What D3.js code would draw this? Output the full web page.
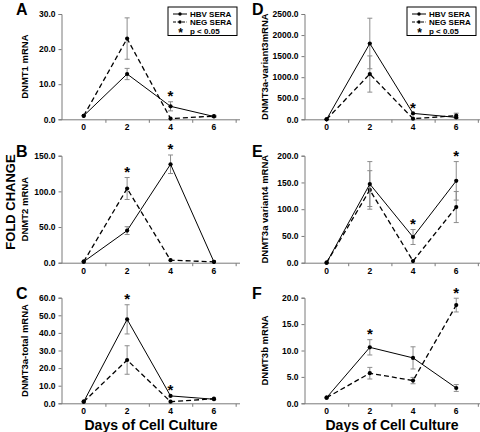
<!DOCTYPE html>
<html><head><meta charset="utf-8">
<script src="https://cdn.jsdelivr.net/npm/d3@7"></script>
<style>body{margin:0;background:#fff}svg{display:block;font-family:"Liberation Sans",Arial,sans-serif}</style>
</head><body><svg id="c" width="480" height="432"></svg>
<script>
const days = [0, 2, 4, 6];
const xTickLabels = [0, 2, 4, 6];
const xMinorTicks = [1, 3, 5, 7];
const seriesNames = ["HBV SERA", "NEG SERA"];
const starLabel = "p < 0.05";

// Panel A: DNMT1
const aHbv = [1.0, 12.9, 3.7, 0.8], aHbvErr = [0, 1.6, 1.3, 0.2];
const aNeg = [1.0, 23.0, 0.2, 0.9], aNegErr = [0, 5.9, 0, 0.2];
const aStars = [4];
const aTicks = [0, 10, 20, 30];
// Panel B: DNMT2
const bHbv = [1.4, 45.0, 138.0, 1.2], bHbvErr = [0, 5.5, 13.0, 0];
const bNeg = [1.4, 104.0, 3.5, 1.2], bNegErr = [0, 15.4, 0, 0];
const bStars = [2, 4];
const bTicks = [0, 50, 100, 150];
// Panel C: DNMT3a-total
const cHbv = [0.9, 47.7, 4.2, 2.3], cHbvErr = [0, 8.3, 0, 0];
const cNeg = [0.9, 24.6, 0.9, 2.6], cNegErr = [0, 8.1, 0, 0];
const cStars = [2, 4];
const cTicks = [0, 10, 20, 30, 40, 50, 60];
// Panel D: DNMT3a-variant3
const dHbv = [0, 1800, 140, 45], dHbvErr = [0, 600, 0, 0];
const dNeg = [0, 1075, 15, 85], dNegErr = [0, 430, 0, 60];
const dStars = [4];
const dTicks = [0, 500, 1000, 1500, 2000, 2500];
// Panel E: DNMT3a variant4
const eHbv = [0, 147, 48, 153], eHbvErr = [0, 42, 14, 36];
const eNeg = [0, 136, 3, 104], eNegErr = [0, 36, 0, 29];
const eStars = [4, 6];
const eTicks = [0, 50, 100, 150, 200];
// Panel F: DNMT3b
const fHbv = [1.07, 10.6, 8.6, 2.9], fHbvErr = [0, 1.45, 2.1, 0.65];
const fNeg = [1.07, 5.7, 4.3, 18.6], fNegErr = [0, 1.1, 0.6, 1.3];
const fStars = [2, 6];
const fTicks = [0, 5, 10, 15, 20];

const panels = [
  {letter:"A", title:"DNMT1 mRNA", hbv:aHbv, hbvErr:aHbvErr, neg:aNeg, negErr:aNegErr, stars:aStars, ticks:aTicks, col:0, row:0, legend:true},
  {letter:"B", title:"DNMT2 mRNA", hbv:bHbv, hbvErr:bHbvErr, neg:bNeg, negErr:bNegErr, stars:bStars, ticks:bTicks, col:0, row:1},
  {letter:"C", title:"DNMT3a-total mRNA", hbv:cHbv, hbvErr:cHbvErr, neg:cNeg, negErr:cNegErr, stars:cStars, ticks:cTicks, col:0, row:2},
  {letter:"D", title:"DNMT3a-variant3mRNA", hbv:dHbv, hbvErr:dHbvErr, neg:dNeg, negErr:dNegErr, stars:dStars, ticks:dTicks, col:1, row:0, legend:true},
  {letter:"E", title:"DNMT3a variant4 mRNA", hbv:eHbv, hbvErr:eHbvErr, neg:eNeg, negErr:eNegErr, stars:eStars, ticks:eTicks, col:1, row:1},
  {letter:"F", title:"DNMT3b mRNA", hbv:fHbv, hbvErr:fHbvErr, neg:fNeg, negErr:fNegErr, stars:fStars, ticks:fTicks, col:1, row:2}
];

const colGeom = [{x0:62, x1:240, dmax:7.2, titleX:24, letterX:16},
                 {x0:305, x1:480, dmax:7.1, titleX:264, letterX:252}];
const rowGeom = [{top:14, bottom:119.3}, {top:155.7, bottom:262.7}, {top:297.7, bottom:403.3}];

const svg = d3.select("#c");
const axisColor = "#7a7a7a";
const errColor = "#8c8c8c";

panels.forEach(p => {
  const cg = colGeom[p.col], rg = rowGeom[p.row];
  const ymax = p.ticks[p.ticks.length-1];
  const x = d3.scaleLinear().domain([-1, cg.dmax]).range([cg.x0, cg.x1]);
  const y = d3.scaleLinear().domain([0, ymax]).range([rg.bottom, rg.top]);
  const g = svg.append("g");

  // y axis
  const ya = g.append("g").attr("transform", `translate(${cg.x0-0.5},0)`)
    .call(d3.axisLeft(y).tickValues(p.ticks).tickFormat(d3.format(".1f")).tickSizeOuter(0).tickSize(3).tickPadding(3));
  ya.select(".domain").attr("stroke", axisColor);
  ya.selectAll(".tick line").attr("stroke", axisColor);
  ya.selectAll("text").attr("font-size", 8.5).attr("font-weight", "bold").attr("fill", "#000");

  // x axis
  const xa = g.append("g").attr("transform", `translate(0,${rg.bottom+0.5})`)
    .call(d3.axisBottom(x).tickValues(xMinorTicks).tickFormat("").tickSizeOuter(0).tickSize(3));
  xa.select(".domain").attr("stroke", axisColor).attr("d", `M${cg.x0-0.5},0H${cg.x1}`);
  xa.selectAll(".tick line").attr("stroke", axisColor);
  g.append("g").selectAll("text").data(xTickLabels).join("text")
    .attr("x", d => x(d)).attr("y", rg.bottom + 11)
    .attr("text-anchor", "middle").attr("font-size", 8.5).attr("font-weight", "bold").text(d => d);

  // y title
  const ymid = (rg.top + rg.bottom)/2;
  g.append("text").attr("transform", `translate(${cg.titleX + 4},${ymid}) rotate(-90)`)
    .attr("text-anchor", "middle").attr("font-size", 9.5).attr("font-weight", "bold").text(p.title);

  // panel letter
  g.append("text").attr("x", cg.letterX).attr("y", rg.top + 1)
    .attr("font-size", 16).attr("font-weight", "bold").text(p.letter);

  const line = d3.line().x((d,i) => x(days[i])).y(d => y(d));
  const series = [
    {vals:p.neg, err:p.negErr, dash:"5,3", w:1.3},
    {vals:p.hbv, err:p.hbvErr, dash:null, w:1}
  ];
  series.forEach(s => {
    days.forEach((dd,i) => {
      if (!s.err[i]) return;
      const cx = x(dd), yt = y(s.vals[i]+s.err[i]), yb = y(s.vals[i]-s.err[i]);
      g.append("line").attr("x1",cx).attr("x2",cx).attr("y1",yt).attr("y2",yb).attr("stroke",errColor).attr("stroke-width",1);
      [yt,yb].forEach(yy => g.append("line").attr("x1",cx-2.5).attr("x2",cx+2.5).attr("y1",yy).attr("y2",yy).attr("stroke",errColor).attr("stroke-width",1));
    });
    g.append("path").attr("d", line(s.vals)).attr("fill","none").attr("stroke","#000")
      .attr("stroke-width", s.w).attr("stroke-dasharray", s.dash);
    g.selectAll(null).data(s.vals).join("circle")
      .attr("cx",(d,i)=>x(days[i])).attr("cy",d=>y(d)).attr("r",2.1).attr("fill","#000");
  });

  // stars
  p.stars.forEach(dd => {
    const i = days.indexOf(dd);
    const top = Math.max(p.hbv[i]+p.hbvErr[i], p.neg[i]+p.negErr[i]);
    const cy = y(top) - 9;
    g.append("text").attr("x", x(dd)).attr("y", cy + 8.5).attr("text-anchor","middle")
      .attr("font-size", 15).attr("font-weight","bold").text("*");
  });

  // legend
  if (p.legend) {
    const lx = p.col === 0 ? 168 : 407;
    const lg = g.append("g").attr("transform", `translate(${lx},7)`);
    lg.append("rect").attr("width", 69).attr("height", 28.5).attr("fill","#fff").attr("stroke","#000").attr("stroke-width",1);
    const rows = [{t:seriesNames[0], dash:null}, {t:seriesNames[1], dash:"3,1.5"}];
    rows.forEach((r,k) => {
      const yy = 7 + k*8;
      lg.append("line").attr("x1",5).attr("x2",19).attr("y1",yy).attr("y2",yy).attr("stroke","#000").attr("stroke-width",1).attr("stroke-dasharray", r.dash);
      lg.append("circle").attr("cx",12).attr("cy",yy).attr("r",1.7).attr("fill","#000");
      lg.append("text").attr("x",22).attr("y",yy+3).attr("font-size",8).attr("font-weight","bold").text(r.t);
    });
    lg.append("text").attr("x",12.5).attr("y",30).attr("text-anchor","middle").attr("font-size",12).attr("font-weight","bold").text("*");
    lg.append("text").attr("x",22).attr("y",26.5).attr("font-size",8).attr("font-weight","bold").text(starLabel);
  }
});

// Shared labels
svg.append("text").attr("transform","translate(14.5,202) rotate(-90)").attr("text-anchor","middle")
  .attr("font-size",13).attr("font-weight","bold").text("FOLD CHANGE");
svg.append("text").attr("x",151).attr("y",430).attr("text-anchor","middle")
  .attr("font-size",14).attr("font-weight","bold").text("Days of Cell Culture");
svg.append("text").attr("x",392).attr("y",430).attr("text-anchor","middle")
  .attr("font-size",14).attr("font-weight","bold").text("Days of Cell Culture");
</script></body></html>
